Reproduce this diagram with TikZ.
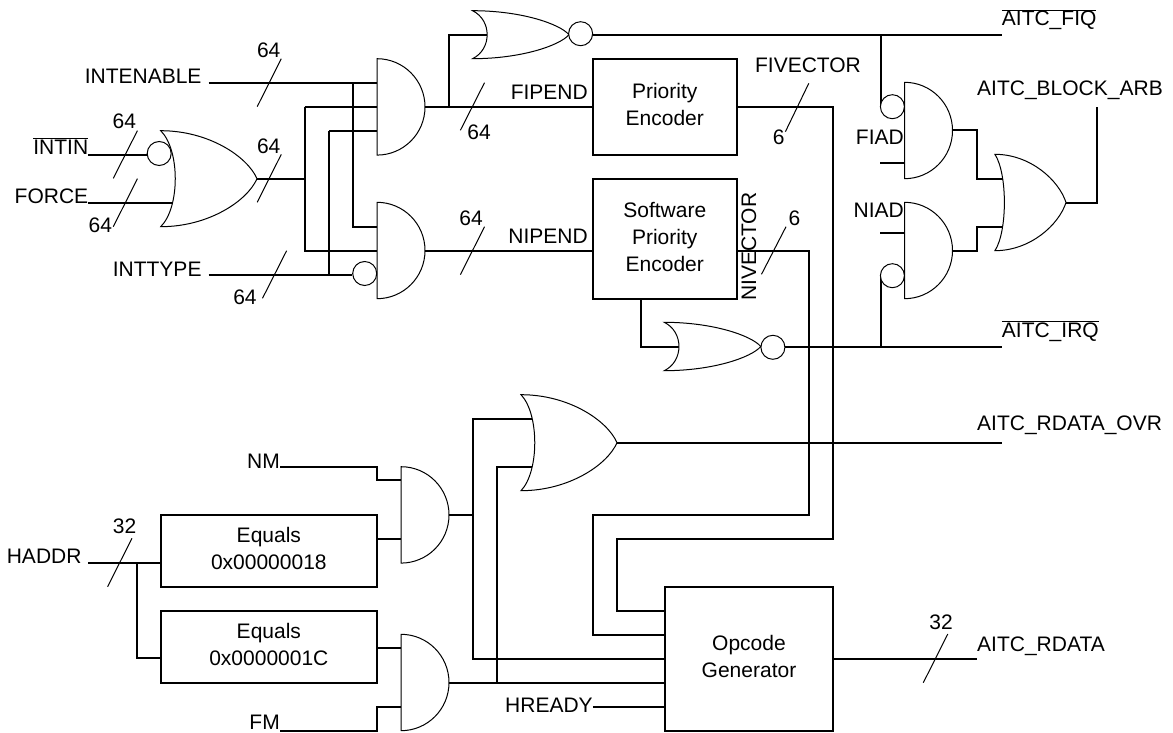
\documentclass[tikz,border=0pt]{standalone}
\usepackage{fontspec}
\setmainfont{Liberation Sans}
\usetikzlibrary{calc, positioning}
\tikzset{
  wire/.style={line width=2pt},
  gate/.style={line width=1pt, fill=white},
  bubble/.style={draw, circle, line width=1pt, fill=white, inner sep=0pt, minimum size=24pt},
  block/.style={draw, rectangle, line width=2pt, outer sep=0pt, align=center, anchor=north west, text depth=5pt, font=\fontsize{21}{27}\selectfont},
  slash/.style={line width=1pt},
  lbl/.style={inner sep=0pt, font=\fontsize{21}{24}\selectfont}
}
\newcommand{\andgate}[3]{% x, top y, name
  \draw[gate] (#1,#2) arc[start angle=90, end angle=-90, x radius=48pt, y radius=48.2pt] -- cycle;
  \coordinate (#3) at (#1+48,#2+48.2);
}
\newcommand{\orgate}[6]{% x tip, top y, x back, x nose, height, name
  \draw[gate] (#1,#2)
    .. controls ({#1+0.5*(#4-#1)},#2) and ({#1+0.9*(#4-#1)},{#2+0.27*#5}) .. (#4,{#2+0.5*#5})
    .. controls ({#1+0.9*(#4-#1)},{#2+0.73*#5}) and ({#1+0.5*(#4-#1)},#2+#5) .. (#1,#2+#5)
    .. controls ({#1+1.33*(#3-#1)},{#2+0.8*#5}) and ({#1+1.33*(#3-#1)},{#2+0.2*#5}) .. (#1,#2) -- cycle;
  \coordinate (#6) at (#4,{#2+0.5*#5});
}
\begin{document}
\begin{tikzpicture}[x=1pt,y=-1pt]
  \useasboundingbox (0,0) rectangle (1173,733);

  % free ends
  \coordinate (pEnable) at (208.6,83);
  \coordinate (pType) at (208.6,275);
  \coordinate (pIntin) at (88.4,155);
  \coordinate (pForce) at (88.4,203);
  \coordinate (pNm) at (280,467);
  \coordinate (pFm) at (280,730.7);
  \coordinate (pAddr) at (88.4,562.7);
  \coordinate (pReady) at (592.9,707);
  \coordinate (pFiq) at (1001.7,34.7);
  \coordinate (pIrq) at (1001.7,347.3);
  \coordinate (pOvr) at (1001.7,442.7);
  \coordinate (pData) at (977,658.7);
  \coordinate (pArb) at (1097,106.7);

  % gates, left part
  \node[bubble] (bIntin) at (159.2,153.5) {};
  \draw[wire] (pIntin) -- (bIntin.west |- pIntin);
  \draw[wire] (pForce) -- (173.4,203);
  \orgate{160.7}{130.7}{175.3}{257}{96}{orIn}
  \draw[wire] (pEnable) -- (377,83);
  \draw[wire] (352.8,83) |- (377,227);
  \draw[wire] (orIn) -- (304.6,178.7);
  \draw[wire] (304.6,107) -- (377,107);
  \draw[wire] (304.6,107) |- (377,250.7);
  \draw[wire] (329,131) -- (377,131);
  \draw[wire] (329,131) -- (329,275);
  \andgate{377}{58.7}{andF}
  \andgate{377}{202.3}{andN}
  \node[bubble] (bType) at (364.7,273.5) {};
  \draw[wire] (pType) -- (bType.west |- pType);

  % encoders
  \node[block, minimum width=144.5pt, minimum height=96.3pt] (prio) at (592.5,58.7) {Priority\\Encoder};
  \node[block, minimum width=144.5pt, minimum height=120pt] (soft) at (592.5,179) {Software\\Priority\\Encoder};
  \draw[wire] (andF) -- (andF -| prio.west);
  \draw[wire] (andN) -- (andN -| soft.west);

  % nor gates
  \draw[wire] (448.5,107) |- (487,34.7);
  \orgate{472.6}{10.7}{487.2}{569}{48}{norF}
  \node[bubble] (bNorF) at (580.6,33.7) {};
  \draw[wire] (bNorF.east |- pFiq) -- (pFiq);
  \draw[wire] (641.3,299) |- (679,347);
  \orgate{664.3}{322.3}{679}{760.8}{48.4}{norN}
  \node[bubble] (bNorN) at (772.9,347.3) {};
  \draw[wire] (bNorN.east) -- (pIrq);

  % right side gates
  \draw[wire] (881,34.7) -- (881,107);
  \draw[wire] (881,347.3) -- (881,275);
  \draw[wire] (880,163) -- (904.5,163);
  \draw[wire] (880,232.7) -- (904.5,232.7);
  \node[bubble] (bFiad) at (892.4,106.7) {};
  \node[bubble] (bNiad) at (892.4,275.7) {};
  \andgate{904.5}{82.3}{andFiad}
  \andgate{904.5}{202.3}{andNiad}
  \draw[wire] (andFiad) -- (977,130.5) |- (1002.5,179);
  \draw[wire] (andNiad) -- (977,250.5) |- (1002.5,227);
  \orgate{994.9}{154.3}{1004.4}{1066}{96.4}{orArb}
  \draw[wire] (orArb) -| (pArb);

  % lower part
  \node[block, minimum width=216.3pt, minimum height=71.7pt] (eqA) at (160.7,515) {Equals\\0x00000018};
  \node[block, minimum width=216.3pt, minimum height=72pt] (eqB) at (160.7,610.7) {Equals\\0x0000001C};
  \node[block, minimum width=168pt, minimum height=144pt] (opcode) at (665,586.7) {Opcode\\Generator};
  \draw[wire] (pNm) -- (377,467) |- (401,479.7);
  \draw[wire] (pFm) -- (377,730.7) |- (401,707);
  \draw[wire] (377,539) -- (401,539);
  \draw[wire] (377,647.7) -- (401,647.7);
  \draw[wire] (pAddr) -- (pAddr -| eqA.west);
  \draw[wire] (137,562.7) |- (160.7,658.3);
  \andgate{401}{466.7}{andNm}
  \andgate{401}{634.3}{andFm}
  \draw[wire] (andNm) -- (473,514.9);
  \draw[wire] (532,419) -| (473,658.7) -- (665,658.7);
  \draw[wire] (532,466.7) -| (497,682.9);
  \draw[wire] (andFm) -- (andFm -| opcode.west);
  \draw[wire] (pReady) -- (665,707);
  \orgate{521}{394.7}{534.8}{617}{96}{orOvr}
  \draw[wire] (orOvr) -- (pOvr);
  \draw[wire] (opcode.east |- pData) -- (pData);

  % vectors
  \draw[wire] (prio.east) -| (832.6,539) -| (617,610.7) -- (665,610.7);
  \draw[wire] (soft.east |- andN) -| (808.8,515) -| (593,635) -- (665,635);

  % bus marks
  \draw[slash] (281.3,58.7) -- (257.2,106.7);
  \draw[slash] (281.3,154.3) -- (257.2,202.3);
  \draw[slash] (137.4,130.7) -- (113.3,178.3);
  \draw[slash] (137.4,178.7) -- (113.3,226.7);
  \draw[slash] (286.6,250.7) -- (262.5,298.3);
  \draw[slash] (484.5,82.7) -- (460.4,130.3);
  \draw[slash] (484.5,226.7) -- (460.4,274.7);
  \draw[slash] (808.8,83.3) -- (785.4,131.7);
  \draw[slash] (786,226.7) -- (761.5,274.3);
  \draw[slash] (132,538.3) -- (107.6,586.7);
  \draw[slash] (947.8,634) -- (923.3,682.7);

  % bus widths
  \node[lbl] (w1) at (268.7,50) {64};
  \node[lbl] (w2) at (268.7,146) {64};
  \node[lbl] (w3) at (124.4,121.7) {64};
  \node[lbl] (w4) at (100.3,225.7) {64};
  \node[lbl] (w5) at (245,297.3) {64};
  \node[lbl] (w6) at (479,132.7) {64};
  \node[lbl] (w7) at (471,218) {64};
  \node[lbl] (w8) at (778.6,137.3) {6};
  \node[lbl] (w9) at (794.4,218.3) {6};
  \node[lbl] (w10) at (124.6,526.7) {32};
  \node[lbl] (w11) at (941,622) {32};

  % signal names
  \node[lbl, anchor=east] (intenable) at (201.7,76.7) {INTENABLE};
  \node[lbl, anchor=east] (intin) at (88.4,146) {$\overline{\mbox{INTIN}}$};
  \node[lbl, anchor=east] (force) at (88.4,196) {FORCE};
  \node[lbl, anchor=east] (inttype) at (201.7,269) {INTTYPE};
  \node[lbl, anchor=east] (fipend) at (588,92) {FIPEND};
  \node[lbl, anchor=east] (nipend) at (588,236) {NIPEND};
  \node[lbl] (fivector) at (808,65.3) {FIVECTOR};
  \node[lbl, rotate=90] (nivector) at (749,246.7) {NIVECTOR};
  \node[lbl, anchor=east] (fiad) at (904,137.3) {FIAD};
  \node[lbl, anchor=east] (niad) at (904,210) {NIAD};
  \node[lbl, anchor=west] (fiq) at (1001.7,19.7) {$\overline{\mbox{AITC\_FIQ}}$};
  \node[lbl, anchor=west] (irq) at (1001.7,331) {$\overline{\mbox{AITC\_IRQ}}$};
  \node[lbl, anchor=west] (arb) at (977,90) {AITC\_BLOCK\_ARB};
  \node[lbl, anchor=west] (ovr) at (977,425.3) {AITC\_RDATA\_OVR};
  \node[lbl, anchor=west] (rdata) at (977,646) {AITC\_RDATA};
  \node[lbl, anchor=east] (nm) at (280,461) {NM};
  \node[lbl, anchor=east] (fm) at (280,722.5) {FM};
  \node[lbl, anchor=east] (haddr) at (81.7,556.7) {HADDR};
  \node[lbl, anchor=east] (hready) at (592.9,705) {HREADY};
\end{tikzpicture}
\end{document}
